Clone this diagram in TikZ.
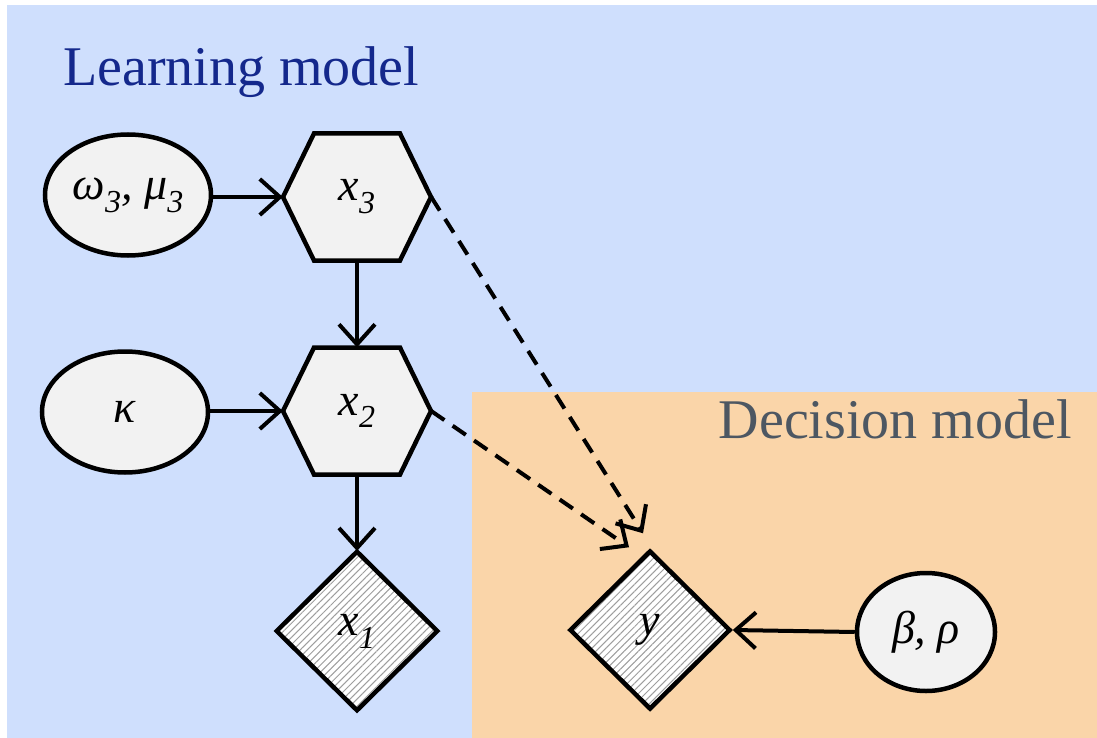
\documentclass[tikz,border=0pt]{standalone}
\usepackage{fontspec}
\setmainfont{Liberation Serif}
\usetikzlibrary{shapes.geometric,arrows.meta,patterns.meta}
\definecolor{bgblue}{HTML}{CFDFFD}
\definecolor{bgorange}{HTML}{FAD5A9}
\definecolor{lmblue}{HTML}{14288C}
\definecolor{dmgray}{HTML}{4D5762}
\definecolor{nodefill}{HTML}{F2F2F2}
\newcommand\lowsub[1]{\raisebox{-0.28em}{\fontsize{32}{32}\selectfont #1}}
\tikzset{
  nodeline/.style={draw=black, line width=4.5pt, fill=nodefill, line join=miter},
  labelfont/.style={font=\fontsize{46}{50}\selectfont\itshape},
  mathlabel/.style={labelfont, inner sep=0pt},
  ellnode/.style={ellipse, nodeline, inner sep=0pt, labelfont},
  hexnode/.style={rectangle, minimum width=148pt, minimum height=127pt, inner sep=0pt, labelfont},
  dianode/.style={diamond, draw=black, line width=4.5pt, preaction={fill=white},
    pattern={Lines[angle=45,distance=5pt,line width=1pt]}, pattern color=black!38,
    minimum width=161pt, minimum height=159pt, inner sep=0pt},
  arr/.style={line width=4pt, -{Straight Barb[length=20pt,width=36pt,line width=4pt]}},
  darr/.style={arr, dash pattern=on 16pt off 10pt},
  title/.style={font=\fontsize{56}{62}\selectfont, inner sep=0pt}
}
\newcommand\hexshape[2]{%
  \draw[nodeline] ({#1-74},#2) -- ({#1-43},{#2-63.5}) -- ({#1+43},{#2-63.5}) -- ({#1+74},#2)
    -- ({#1+43},{#2+63.5}) -- ({#1-43},{#2+63.5}) -- cycle;}
\begin{document}
\begin{tikzpicture}[x=1pt,y=-1pt]
\useasboundingbox (0,0) rectangle (1097,738);
\fill[bgblue] (7,5) rectangle (1097,738);
\fill[bgorange] (472,392) rectangle (1097,738);

\node[title, text=lmblue, anchor=base west] (lm) at (63,86) {Learning model};
\node[title, text=dmgray, anchor=base east] (dm) at (1072,438) {Decision model};

% hexagons
\hexshape{357}{197}
\hexshape{357}{411}
\node[hexnode] (x3) at (357,197) {x\lowsub{3}};
\node[hexnode] (x2) at (357,411) {x\lowsub{2}};

% ellipses
\node[ellnode, minimum width=166pt, minimum height=121pt] (w3) at (128,195) {ω\lowsub{3}, μ\lowsub{3}};
\node[ellnode, minimum width=166pt, minimum height=121pt] (k) at (125,412) {κ};
\node[ellnode, minimum width=138pt, minimum height=118pt] (br) at (926,632) {β, ρ};

% diamonds
\node[dianode] (x1) at (357,631) {};
\node[mathlabel] at (x1) {x\lowsub{1}};
\node[dianode] (y) at (650,630) {};
\node[mathlabel] at (y) {y};

% connectors
\draw[arr] (w3.east |- x3.west) -- (x3.west);
\draw[arr] (k.east |- x2.west) -- (x2.west);
\draw[arr] (x3.south) -- (x2.north);
\draw[arr] (x2.south) -- (x1.north);
\draw[arr] (br.west) -- (y.east);
\draw[darr] (x3.east) -- ([shift={(-7,-15)}]y.north);
\draw[darr] (x2.east) -- ([shift={(-21,-1)}]y.north);
\end{tikzpicture}
\end{document}
